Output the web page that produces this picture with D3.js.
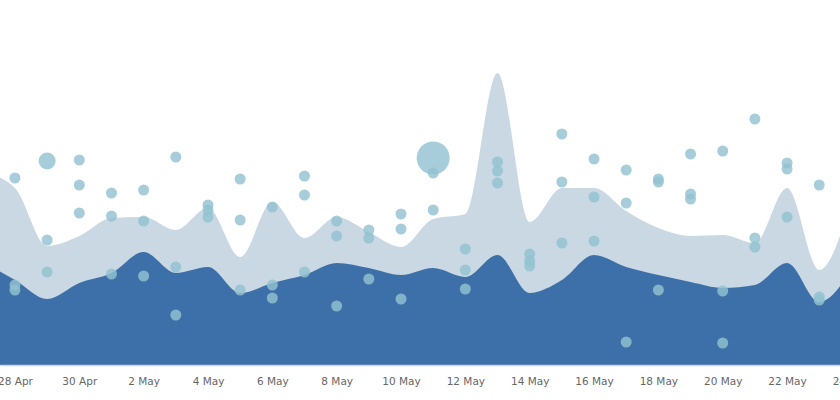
<!DOCTYPE html>
<html>
<head>
<meta charset="utf-8">
<script src="https://cdn.jsdelivr.net/npm/d3@7"></script>
<style>
  html, body { margin: 0; padding: 0; background: #fff; }
  svg { display: block; }
</style>
</head>
<body>
<svg id="chart" width="840" height="400"></svg>
<script>
// ---- data ----
const dates = ["2019-04-27","2019-04-28","2019-04-29","2019-04-30","2019-05-01","2019-05-02","2019-05-03",
  "2019-05-04","2019-05-05","2019-05-06","2019-05-07","2019-05-08","2019-05-09","2019-05-10","2019-05-11",
  "2019-05-12","2019-05-13","2019-05-14","2019-05-15","2019-05-16","2019-05-17","2019-05-18","2019-05-19",
  "2019-05-20","2019-05-21","2019-05-22","2019-05-23","2019-05-24"];
const lightValues = [193,177,119,129,147,148,135,157,108,163,127,148,133,118,146,151,292,143,177,177,154,137,129,130,122,177,95,165];
const darkValues  = [103,85,66,82,92,113,92,98,72,82,90,102,97,90,97,88,110,72,85,110,98,90,83,77,80,102,63,95];

const scatterDates = [
  "2019-04-28","2019-04-28","2019-04-28",
  "2019-04-29","2019-04-29","2019-04-29",
  "2019-04-30","2019-04-30","2019-04-30",
  "2019-05-01","2019-05-01","2019-05-01",
  "2019-05-02","2019-05-02","2019-05-02",
  "2019-05-03","2019-05-03","2019-05-03",
  "2019-05-04","2019-05-04","2019-05-04",
  "2019-05-05","2019-05-05","2019-05-05",
  "2019-05-06","2019-05-06","2019-05-06",
  "2019-05-07","2019-05-07","2019-05-07",
  "2019-05-08","2019-05-08","2019-05-08",
  "2019-05-09","2019-05-09","2019-05-09",
  "2019-05-10","2019-05-10","2019-05-10",
  "2019-05-11","2019-05-11","2019-05-11",
  "2019-05-12","2019-05-12","2019-05-12",
  "2019-05-13","2019-05-13","2019-05-13",
  "2019-05-14","2019-05-14","2019-05-14",
  "2019-05-15","2019-05-15","2019-05-15",
  "2019-05-16","2019-05-16","2019-05-16",
  "2019-05-17","2019-05-17","2019-05-17",
  "2019-05-18","2019-05-18","2019-05-18",
  "2019-05-19","2019-05-19","2019-05-19",
  "2019-05-20","2019-05-20","2019-05-20",
  "2019-05-21","2019-05-21","2019-05-21",
  "2019-05-22","2019-05-22","2019-05-22",
  "2019-05-23","2019-05-23","2019-05-23"];
const scatterValues = [
  187,80,75,
  204,125,93,
  205,180,152,
  172,149,91,
  175,144,89,
  208,98,50,
  160,155,148,
  186,145,75,
  158,80,67,
  189,170,93,
  144,129,59,
  135,127,86,
  151,136,66,
  207,192,155,
  116,95,76,
  203,194,182,
  111,104,99,
  231,183,122,
  206,168,124,
  195,162,23,
  186,183,75,
  211,171,166,
  214,74,22,
  246,127,118,
  202,196,148,
  180,68,65];
const scatterWeights = [
  1,1,1, 2.4,1,1, 1,1,1, 1,1,1, 1,1,1, 1,1,1, 1,1,1, 1,1,1, 1,1,1, 1,1,1,
  1,1,1, 1,1,1, 1,1,1, 9,1,1, 1,1,1, 1,1,1, 1,1,1, 1,1,1, 1,1,1, 1,1,1,
  1,1,1, 1,1,1, 1,1,1, 1,1,1, 1,1,1, 1,1,1];

const tickLabels = ["2019-04-28","2019-04-30","2019-05-02","2019-05-04","2019-05-06","2019-05-08","2019-05-10",
  "2019-05-12","2019-05-14","2019-05-16","2019-05-18","2019-05-20","2019-05-22","2019-05-24"];

// ---- chart ----
const W = 840, H = 400;
const parse = d3.utcParse("%Y-%m-%d");
const svg = d3.select("#chart");

const x = d3.scaleUtc()
  .domain([new Date(Date.UTC(2019,3,27,12,50)), new Date(Date.UTC(2019,4,23,15,30))])
  .range([0, W]);
const y = d3.scaleLinear().domain([0, 300]).range([365, 65]);
const r = d3.scaleSqrt().domain([0, 1]).range([0, 5.5]);

const series = dates.map((d, i) => ({ date: parse(d), light: lightValues[i], dark: darkValues[i] }));

svg.append("defs").append("clipPath").attr("id", "clip")
  .append("rect").attr("x", 0).attr("y", 0).attr("width", W).attr("height", 365);

const plot = svg.append("g").attr("clip-path", "url(#clip)");

const lightArea = d3.area()
  .x(d => x(d.date)).y0(y(0)).y1(d => y(d.light))
  .curve(d3.curveMonotoneX);
const darkArea = d3.area()
  .x(d => x(d.date)).y0(y(0)).y1(d => y(d.dark))
  .curve(d3.curveMonotoneX);

plot.append("path").datum(series).attr("d", lightArea).attr("fill", "#c9d8e3");
plot.append("path").datum(series).attr("d", darkArea).attr("fill", "#3d6fa8");

const pts = scatterDates.map((d, i) => ({ date: parse(d), v: scatterValues[i], w: scatterWeights[i] }));
svg.append("g").selectAll("circle").data(pts).join("circle")
  .attr("cx", d => x(d.date))
  .attr("cy", d => y(d.v))
  .attr("r", d => r(d.w))
  .attr("fill", "#92c2d1")
  .attr("fill-opacity", 0.82);

const axis = d3.axisBottom(x)
  .tickValues(tickLabels.map(parse))
  .tickFormat(d3.utcFormat("%-d %b"))
  .tickSize(0)
  .tickPadding(13);

const ax = svg.append("g").attr("transform", "translate(0,365)").call(axis);
ax.select(".domain").attr("stroke", "#ccd6eb").attr("stroke-width", 1.5);
ax.selectAll("text")
  .attr("fill", "#666")
  .style("font-family", "'DejaVu Sans', sans-serif")
  .style("font-size", "10.5px");
</script>
</body>
</html>
